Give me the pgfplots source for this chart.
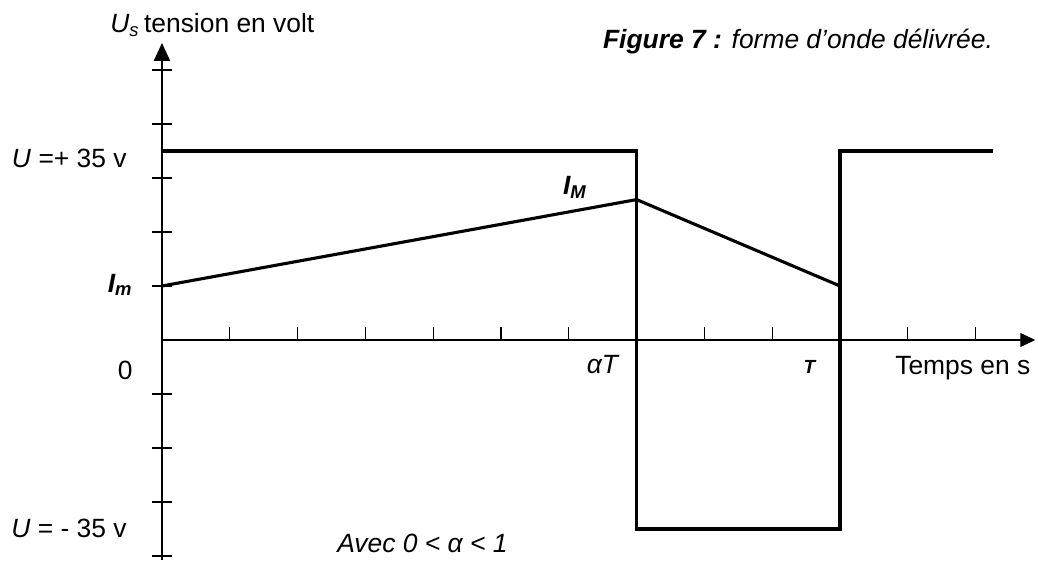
\documentclass[border=0pt]{standalone}
\usepackage{fontspec}
\setmainfont{Liberation Sans}
\usepackage{pgfplots}
\pgfplotsset{compat=1.18}
\usetikzlibrary{arrows.meta}

\begin{document}
\fontsize{13.2}{15.5}\selectfont
\begin{tikzpicture}
\begin{axis}[
  x=33.9pt, y=27pt,
  axis lines=middle,
  xmin=0, xmax=12.88,
  ymin=-4.07, ymax=5.5,
  enlargelimits=false,
  clip=false,
  xtick=\empty,
  ytick={-4,-3,-2,-1,1,2,3,4,5},
  yticklabels={},
  major tick length=10pt,
  y tick style={line width=1pt, black},
  x axis line style={line width=0.65pt, -{Triangle[width=7pt,length=7.5pt]}},
  y axis line style={line width=1.1pt, -{Triangle[width=8pt,length=9pt]}},
  every axis plot/.append style={no marks},
]
% graduations of the time axis
\addplot[ycomb, line width=0.6pt] coordinates {
  (1,0.24) (2,0.24) (3,0.24) (4,0.24) (5,0.24) (6,0.24)
  (7,0.24) (8,0.24) (9,0.24) (10,0.24) (11,0.24) (12,0.24)};
% delivered voltage U_s
\addplot[line width=1.6pt] coordinates {
  (0,3.5) (7,3.5) (7,-3.5) (10,-3.5) (10,3.5) (12.26,3.5)};
% current between I_m and I_M
\addplot[line width=1.55pt] coordinates {(0,1) (7,2.6) (10,1)};

% bounding frame of the figure
\path (axis cs:-2.389,6.296) rectangle (axis cs:12.92,-4.111);

\node[anchor=west, inner sep=0] at (axis cs:-0.767,5.83)
  {\textit{U\textsubscript{s}}\,tension en volt};
\node[anchor=west, inner sep=0] at (axis cs:6.50,5.52)
  {\textbf{\textit{Figure 7 :}} \textit{forme d’onde délivrée.}};
\node[anchor=east, inner sep=0] at (axis cs:-0.516,3.37) {\textit{U} =+ 35 v};
\node[anchor=east, inner sep=0] at (axis cs:-0.516,-3.48) {\textit{U} = - 35 v};
\node[anchor=east, inner sep=0] at (axis cs:-0.428,1.02)
  {\textbf{\textit{I\textsubscript{m}}}};
\node[anchor=east, inner sep=0] at (axis cs:-0.428,-0.556) {0};
\node[anchor=west, inner sep=0] at (axis cs:5.91,2.83)
  {\textbf{\textit{I\textsubscript{M}}}};
\node[anchor=east, inner sep=0] at (axis cs:6.755,-0.46) {\textit{αT}};
\node[inner sep=0] at (axis cs:9.56,-0.50)
  {\fontsize{9.5}{10}\selectfont\textbf{\textit{T}}};
\node[anchor=west, inner sep=0] at (axis cs:10.81,-0.52) {Temps en s};
\node[anchor=west, inner sep=0] at (axis cs:2.58,-3.76) {\textit{Avec 0 < α < 1}};
\end{axis}
\end{tikzpicture}
\end{document}
